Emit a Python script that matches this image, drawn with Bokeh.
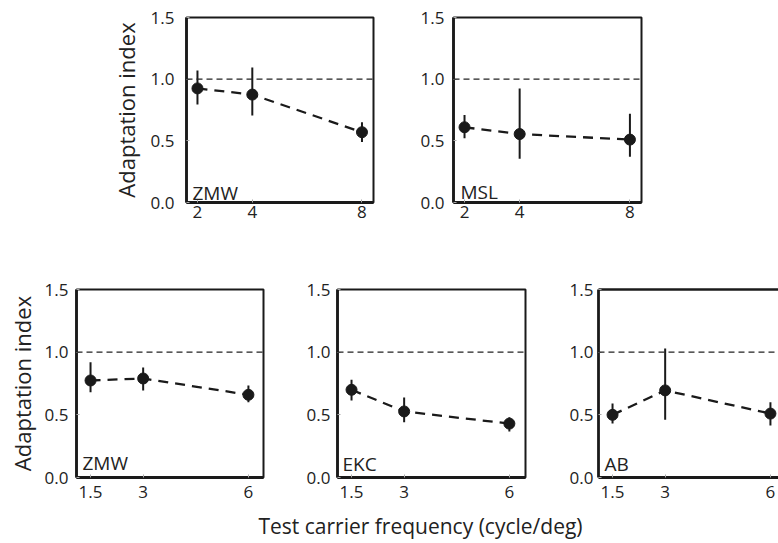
from bokeh.plotting import figure
from bokeh.layouts import column, row, Spacer
from bokeh.models import (Span, Label, LinearAxis, ColumnDataSource, Range1d,
                          FixedTicker, NumeralTickFormatter)
from bokeh.embed import file_html
from bokeh.resources import INLINE

# ---------------- data ----------------
top_freq = [2, 4, 8]
top_tick_labels = ["2", "4", "8"]
bottom_freq = [1.5, 3, 6]
bottom_tick_labels = ["1.5", "3", "6"]
y_ticks = [0.0, 0.5, 1.0, 1.5]

zmw1_mean = [0.925, 0.875, 0.57]
zmw1_lo = [0.795, 0.705, 0.49]
zmw1_hi = [1.07, 1.095, 0.65]

msl_mean = [0.61, 0.555, 0.51]
msl_lo = [0.52, 0.355, 0.37]
msl_hi = [0.71, 0.925, 0.72]

zmw2_mean = [0.774, 0.79, 0.66]
zmw2_lo = [0.68, 0.694, 0.60]
zmw2_hi = [0.92, 0.878, 0.734]

ekc_mean = [0.70, 0.527, 0.43]
ekc_lo = [0.615, 0.44, 0.367]
ekc_hi = [0.78, 0.638, 0.48]

ab_mean = [0.50, 0.695, 0.51]
ab_lo = [0.43, 0.46, 0.415]
ab_hi = [0.59, 1.03, 0.60]

reference_level = 1.0
y_label = "Adaptation index"
x_label = "Test carrier frequency (cycle/deg)"

FONT = "Open Sans"
INK = "#1a1a1a"


def panel(freq, tick_labels, mean, lo, hi, name, xr, width, height,
          mb_left, mb_right, mb_top, mb_bottom, y_standoff, x_standoff,
          name_dx, name_dy, ylabel=None, ylabel_standoff=6, outline=True):
    p = figure(width=width, height=height, x_range=Range1d(*xr), y_range=Range1d(0, 1.5),
               output_backend="svg", toolbar_location=None,
               min_border_left=mb_left, min_border_right=mb_right,
               min_border_top=mb_top, min_border_bottom=mb_bottom)
    p.grid.visible = False
    p.background_fill_color = "white"
    p.border_fill_color = "white"

    xax = p.below[0]
    yax = p.left[0]
    for ax in (xax, yax):
        ax.axis_line_width = 2.8
        ax.axis_line_color = INK
        ax.major_tick_in = 3
        ax.major_tick_out = 0
        ax.major_tick_line_color = "#aaaaaa"
        ax.major_tick_line_width = 1
        ax.minor_tick_line_color = None
        ax.major_label_text_font = FONT
        ax.major_label_text_font_size = "17px"
        ax.major_label_text_color = "#222222"
        ax.axis_label_text_font = FONT
        ax.axis_label_text_font_style = "normal"
        ax.axis_label_text_color = "#222222"

    xax.ticker = FixedTicker(ticks=freq)
    xax.major_label_overrides = dict(zip(freq, tick_labels))
    xax.major_label_standoff = x_standoff
    yax.ticker = FixedTicker(ticks=y_ticks)
    yax.formatter = NumeralTickFormatter(format="0.0")
    yax.major_label_standoff = y_standoff

    if ylabel:
        yax.axis_label = ylabel
        yax.axis_label_text_font_size = "22px"
        yax.axis_label_standoff = ylabel_standoff

    if outline:
        p.outline_line_color = INK
        p.outline_line_width = 2
        p.outline_line_alpha = 1
    else:
        p.outline_line_color = None
        top = LinearAxis(ticker=FixedTicker(ticks=[]), axis_line_width=2.3,
                         axis_line_color=INK, major_tick_in=0, major_tick_out=0,
                         minor_tick_in=0, minor_tick_out=0)
        p.add_layout(top, "above")

    p.add_layout(Span(location=reference_level, dimension="width", line_color="#222222",
                      line_width=1.3, line_dash="6 4"))

    src = ColumnDataSource(dict(x=freq, y=mean, lo=lo, hi=hi))
    p.line("x", "y", source=src, line_color=INK, line_width=2.3, line_dash="10 7")
    p.segment(x0="x", y0="lo", x1="x", y1="hi", source=src, line_color=INK, line_width=2)
    p.scatter("x", "y", source=src, size=11, fill_color=INK, line_color=INK)

    fw = width - mb_left - mb_right
    fh = height - mb_top - mb_bottom
    sx = fw / (xr[1] - xr[0])
    sy = fh / 1.5
    p.add_layout(Label(x=xr[0] + name_dx / sx, y=name_dy / sy, text=name,
                       text_font=FONT, text_font_size="19px", text_color="#222222",
                       text_baseline="alphabetic", text_align="left"))
    return p


# top row
p1 = panel(top_freq, top_tick_labels, zmw1_mean, zmw1_lo, zmw1_hi, "ZMW",
           (1.6, 8.42), 283, 232, 86, 10, 17, 30, 12, 3, 6, 10,
           ylabel=y_label, ylabel_standoff=7)
p2 = panel(top_freq, top_tick_labels, msl_mean, msl_lo, msl_hi, "MSL",
           (1.6, 8.42), 268, 232, 70, 10, 17, 30, 9, 3, 7, 11)

# bottom row
p3 = panel(bottom_freq, bottom_tick_labels, zmw2_mean, zmw2_lo, zmw2_hi, "ZMW",
           (1.1, 6.43), 280, 242, 76, 17, 22, 32, 8, 8, 6, 15,
           ylabel=y_label, ylabel_standoff=5)
p4 = panel(bottom_freq, bottom_tick_labels, ekc_mean, ekc_lo, ekc_hi, "EKC",
           (1.1, 6.46), 260, 242, 57, 15, 22, 32, 7, 8, 5, 14)
p5 = panel(bottom_freq, bottom_tick_labels, ab_mean, ab_lo, ab_hi, "AB",
           (1.1, 6.23), 238, 242, 58, 0, 22, 32, 5, 8, 6, 14, outline=False)

# shared x-axis title, centred under the bottom row
lab = figure(width=778, height=34, x_range=Range1d(0, 1), y_range=Range1d(0, 1),
             output_backend="svg", toolbar_location=None,
             min_border_left=62, min_border_right=0, min_border_top=0, min_border_bottom=32)
lab.grid.visible = False
lab.outline_line_color = None
lab.left[0].visible = False
bx = lab.below[0]
bx.ticker = FixedTicker(ticks=[])
bx.axis_line_color = None
bx.major_tick_line_color = None
bx.minor_tick_line_color = None
bx.major_label_standoff = 0
bx.axis_label = x_label
bx.axis_label_text_font = FONT
bx.axis_label_text_font_style = "normal"
bx.axis_label_text_font_size = "21px"
bx.axis_label_text_color = "#222222"
bx.axis_label_standoff = 0
lab.scatter(x=[], y=[])

top_row = row(Spacer(width=100, height=232), p1, p2)
bottom_row = row(p3, p4, p5)
layout = column(top_row, Spacer(width=10, height=35), bottom_row, lab)

open("out.html", "w").write(file_html(layout, INLINE))
